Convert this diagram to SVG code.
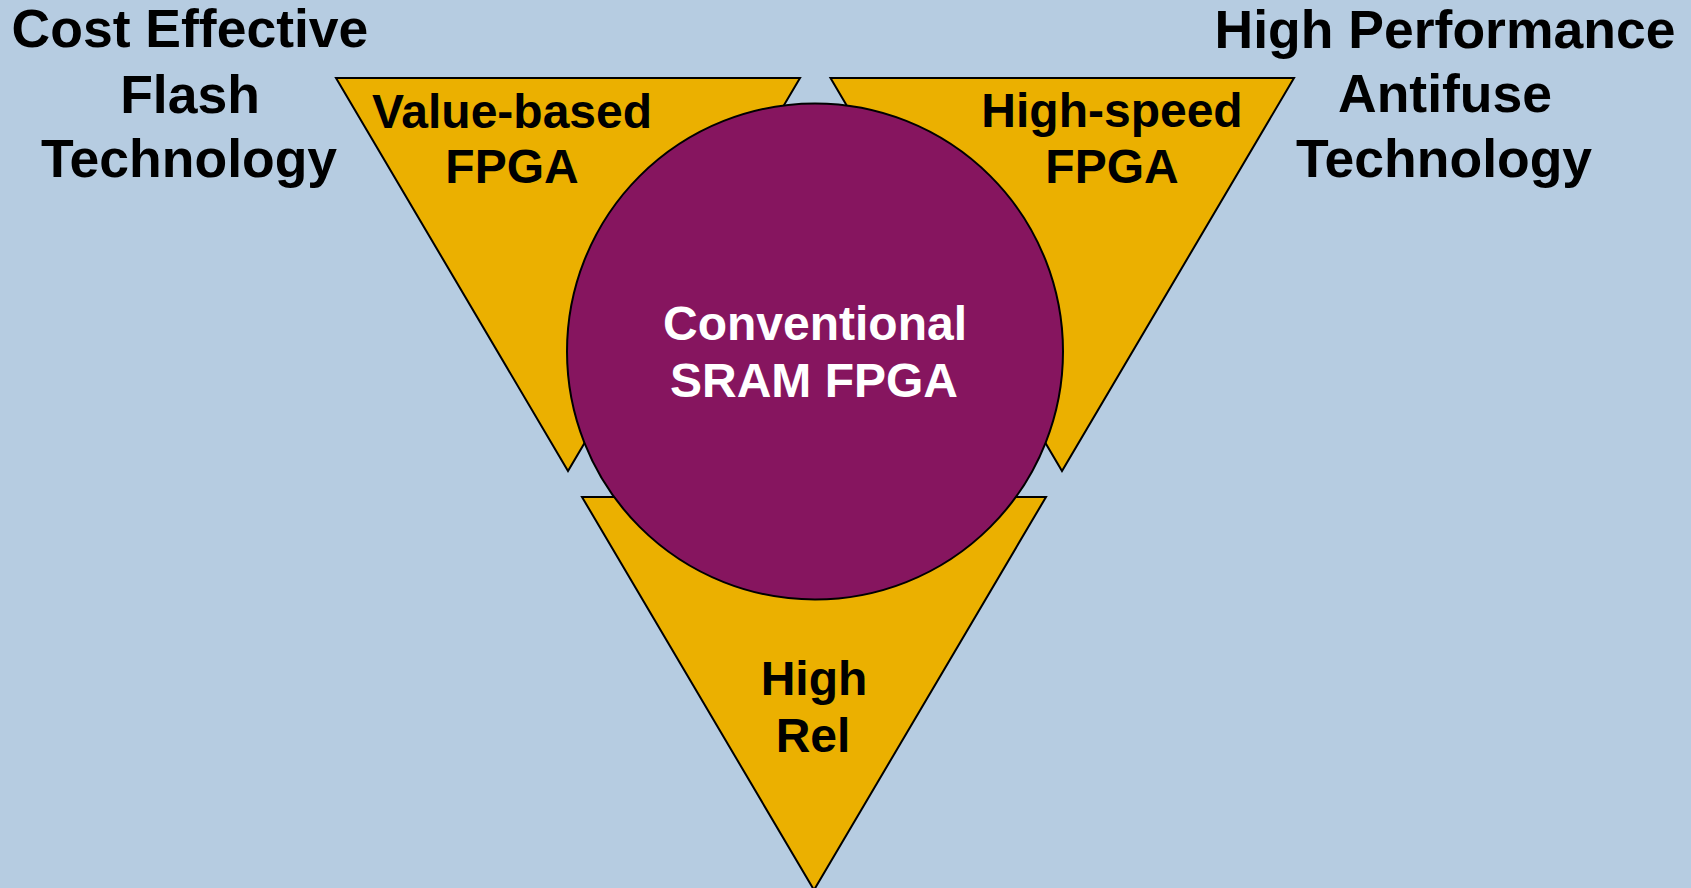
<svg xmlns="http://www.w3.org/2000/svg" width="1691" height="888" viewBox="0 0 1691 888">
<style>
.tri{fill:#ebb000;stroke:#000;stroke-width:2;stroke-linejoin:miter}
.circ{fill:#86155f;stroke:#000;stroke-width:2}
text{font-family:"Liberation Sans",Arial,sans-serif;font-weight:bold;text-anchor:middle}
.lbl{font-size:48px;fill:#000}
.corner{font-size:53.5px;fill:#000}
.white{font-size:48px;fill:#fff}
</style>
<rect x="0" y="0" width="1691" height="888" fill="#b6cce1"/>
<g id="corner-left">
<text class="corner" x="190" y="47">Cost Effective</text>
<text class="corner" x="190" y="113">Flash</text>
<text class="corner" x="189" y="177">Technology</text>
</g>
<g id="corner-right">
<text class="corner" x="1445" y="48">High Performance</text>
<text class="corner" x="1445" y="112">Antifuse</text>
<text class="corner" x="1444" y="177">Technology</text>
</g>
<g id="tri-left">
<polygon class="tri" points="336,78 800,78 568,471"/>
</g>
<g id="tri-right">
<polygon class="tri" points="830.5,78 1294,78 1062,471"/>
</g>
<g id="tri-bottom">
<polygon class="tri" points="582,497 1046,497 814,890"/>
</g>
<g id="circle">
<circle class="circ" cx="815" cy="351.5" r="248"/>
<text class="white" x="815" y="340">Conventional</text>
<text class="white" x="814" y="397">SRAM FPGA</text>
</g>
<g id="label-left">
<text class="lbl" x="512" y="128">Value-based</text>
<text class="lbl" x="512" y="183">FPGA</text>
</g>
<g id="label-right">
<text class="lbl" x="1112" y="127">High-speed</text>
<text class="lbl" x="1112" y="183">FPGA</text>
</g>
<g id="label-bottom">
<text class="lbl" x="814" y="695">High</text>
<text class="lbl" x="813" y="752">Rel</text>
</g>
<g id="connectors"/>
</svg>
